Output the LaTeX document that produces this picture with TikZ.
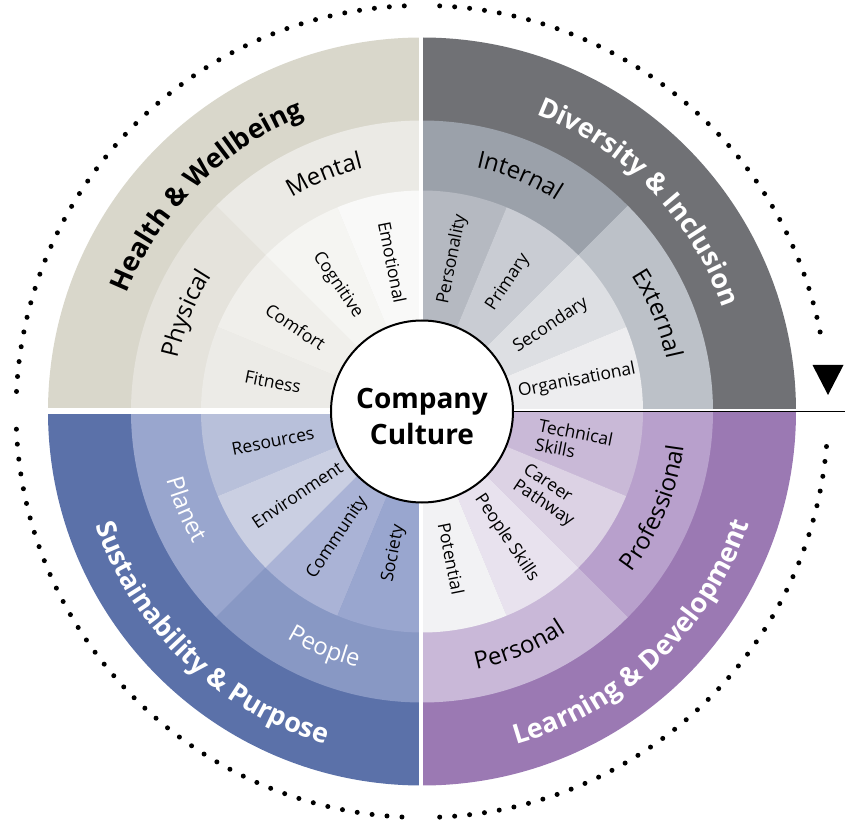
\documentclass[tikz,border=0pt]{standalone}
\usepackage{fontspec}
\setmainfont{Open Sans}
\IfFontExistsTF{Open Sans ExtraBold}{\newfontfamily\vastag{Open Sans ExtraBold}}{\newcommand{\vastag}{\bfseries}}
\usetikzlibrary{decorations.text}

%színek
\definecolor{hwA}{HTML}{D9D7CB}
\definecolor{hwB1}{HTML}{E5E3DC}
\definecolor{hwB2}{HTML}{EBEAE5}
\definecolor{hwC1}{HTML}{ECEBE7}
\definecolor{hwC2}{HTML}{F0EFEB}
\definecolor{hwC3}{HTML}{F5F5F2}
\definecolor{hwC4}{HTML}{F9F9F8}

\definecolor{diA}{HTML}{707175}
\definecolor{diB1}{HTML}{9BA1AA}
\definecolor{diB2}{HTML}{BCC1C8}
\definecolor{diC1}{HTML}{B5B9C1}
\definecolor{diC2}{HTML}{C9CCD3}
\definecolor{diC3}{HTML}{DDDFE3}
\definecolor{diC4}{HTML}{EDEDEF}

\definecolor{ldA}{HTML}{9B79B3}
\definecolor{ldB1}{HTML}{B8A0CC}
\definecolor{ldB2}{HTML}{C9B8D8}
\definecolor{ldC1}{HTML}{C9B9D7}
\definecolor{ldC2}{HTML}{DCD2E4}
\definecolor{ldC3}{HTML}{E8E2EE}
\definecolor{ldC4}{HTML}{F2F2F4}

\definecolor{spA}{HTML}{5B71A9}
\definecolor{spB1}{HTML}{99A6CE}
\definecolor{spB2}{HTML}{8898C4}
\definecolor{spC1}{HTML}{B8C0DA}
\definecolor{spC2}{HTML}{CACFE2}
\definecolor{spC3}{HTML}{AAB3D6}
\definecolor{spC4}{HTML}{99A6CF}

%körcikk: szín, sugár, kezdő szög, záró szög
\newcommand{\cikk}[4]{\fill[#1] (0,0) -- (#3:#2) arc[start angle=#3, end angle=#4, radius=#2] -- cycle;}
%ívre írt szöveg: sugár, kezdő szög, záró szög, betű, szöveg
\newcommand{\ivfelirat}[5]{\path[decorate, decoration={text along path, text align=center, text={|#4|#5}}] (#2:#1) arc[start angle=#2, end angle=#3, radius=#1];}

\tikzset{
	belso/.style={font=\fontsize{17.5}{19}\selectfont, align=left, inner sep=0pt},
	pontozott/.style={line width=5pt, line cap=round, dash pattern=on 0pt off 15pt}
}

\begin{document}
\begin{tikzpicture}[x=1pt, y=1pt]
	\useasboundingbox (-422,-417.5) rectangle (423,411.5);
	
	%Health & Wellbeing
	\cikk{hwA}{374}{90}{180}
	\cikk{hwB1}{291}{135}{180}
	\cikk{hwB2}{291}{90}{135}
	\cikk{hwC1}{221}{157.5}{180}
	\cikk{hwC2}{221}{135}{157.5}
	\cikk{hwC3}{221}{112.5}{135}
	\cikk{hwC4}{221}{90}{112.5}
	
	%Diversity & Inclusion
	\cikk{diA}{374}{0}{90}
	\cikk{diB1}{291}{45}{90}
	\cikk{diB2}{291}{0}{45}
	\cikk{diC1}{221}{67.5}{90}
	\cikk{diC2}{221}{45}{67.5}
	\cikk{diC3}{221}{22.5}{45}
	\cikk{diC4}{221}{0}{22.5}
	
	%Learning & Development
	\cikk{ldA}{374}{-90}{0}
	\cikk{ldB1}{291}{-45}{0}
	\cikk{ldB2}{291}{-90}{-45}
	\cikk{ldC1}{221}{-22.5}{0}
	\cikk{ldC2}{221}{-45}{-22.5}
	\cikk{ldC3}{221}{-67.5}{-45}
	\cikk{ldC4}{221}{-90}{-67.5}
	
	%Sustainability & Purpose
	\cikk{spA}{374}{180}{270}
	\cikk{spB1}{291}{180}{225}
	\cikk{spB2}{291}{225}{270}
	\cikk{spC1}{221}{180}{202.5}
	\cikk{spC2}{221}{202.5}{225}
	\cikk{spC3}{221}{225}{247.5}
	\cikk{spC4}{221}{247.5}{270}
	
	%hézagok
	\fill[white] (-3,-376) rectangle (1,376);
	\fill[white] (-376,-2.5) rectangle (0,3.5);
	\fill[white] (0,-0.5) rectangle (376,2.5);
	
	%középső kör
	\node[circle, draw, line width=2pt, fill=white, minimum size=182pt, inner sep=0pt] (kozep) at (0,0) {};
	\node[align=center, font=\bfseries\fontsize{28}{35}\selectfont] (kozepfelirat) at (0,-5) {Company\\Culture};
	\coordinate (jobbszel) at (423,0);
	\draw[line width=1.8pt] (kozep.east) -- (jobbszel);
	
	%pontozott ívek és nyíl
	\draw[pontozott] (92.5:406) arc[start angle=92.5, end angle=177.5, radius=406];
	\draw[pontozott] (182.5:406) arc[start angle=182.5, end angle=267.5, radius=406];
	\draw[pontozott] (272.5:406) arc[start angle=272.5, end angle=357, radius=406];
	\draw[pontozott] (87.5:406) arc[start angle=87.5, end angle=9.5, radius=406];
	\fill (406,16.5) -- (390.5,46.5) -- (421.5,46.5) -- cycle;
	
	%felíratok
		%külső gyűrű
	\ivfelirat{318}{195}{75}{\vastag\fontsize{27}{30}\selectfont}{Health {\&} Wellbeing}
	\ivfelirat{318}{104}{-16}{\color{white}\vastag\fontsize{27}{30}\selectfont}{Diversity {\&} Inclusion}
	\ivfelirat{346}{166.5}{286.5}{\color{white}\vastag\fontsize{27}{30}\selectfont}{Sustainability {\&} Purpose}
	\ivfelirat{346}{-106.5}{13.5}{\color{white}\vastag\fontsize{27}{30}\selectfont}{Learning {\&} Development}
		%középső gyűrű
	\ivfelirat{250}{202.5}{112.5}{\fontsize{24}{28}\selectfont}{Physical}
	\ivfelirat{250}{157.5}{67.5}{\fontsize{24}{28}\selectfont}{Mental}
	\ivfelirat{250}{112.5}{22.5}{\fontsize{24}{28}\selectfont}{Internal}
	\ivfelirat{250}{67.5}{-22.5}{\fontsize{24}{28}\selectfont}{External}
	\ivfelirat{264}{-67.5}{22.5}{\fontsize{24}{28}\selectfont}{Professional}
	\ivfelirat{264}{-112.5}{-22.5}{\fontsize{24}{28}\selectfont}{Personal}
	\ivfelirat{264}{157.5}{247.5}{\color{white}\fontsize{24}{28}\selectfont}{Planet}
	\ivfelirat{264}{202.5}{292.5}{\color{white}\fontsize{24}{28}\selectfont}{People}
		%belső gyűrű
	\node[belso, rotate=-11.25] (fitness) at (168.75:152) {Fitness};
	\node[belso, rotate=-33.75] (comfort) at (146.25:152) {Comfort};
	\node[belso, rotate=-56.25] (cognitive) at (123.75:152) {Cognitive};
	\node[belso, rotate=-78.75] (emotional) at (101.25:152) {Emotional};
	
	\node[belso, rotate=78.75] (personality) at (78.75:155) {Personality};
	\node[belso, rotate=56.25] (primary) at (56.25:155) {Primary};
	\node[belso, rotate=33.75] (secondary) at (33.75:155) {Secondary};
	\node[belso, rotate=11.25] (organisational) at (11.25:158) {Organisational};
	
	\node[belso, rotate=-11.25] (technical) at (-11.25:155) {Technical\\Skills};
	\node[belso, rotate=-33.75] (career) at (-33.75:152) {Career\\Pathway};
	\node[belso, rotate=-56.25] (peopleskills) at (-56.25:152) {People Skills};
	\node[belso, rotate=-78.75] (potential) at (-78.75:150) {Potential};
	
	\node[belso, rotate=11.25] (resources) at (191.25:152) {Resources};
	\node[belso, rotate=33.75] (environment) at (213.75:150) {Environment};
	\node[belso, rotate=56.25] (community) at (236.25:152) {Community};
	\node[belso, rotate=78.75] (society) at (258.75:145) {Society};
	
\end{tikzpicture}
\end{document}
